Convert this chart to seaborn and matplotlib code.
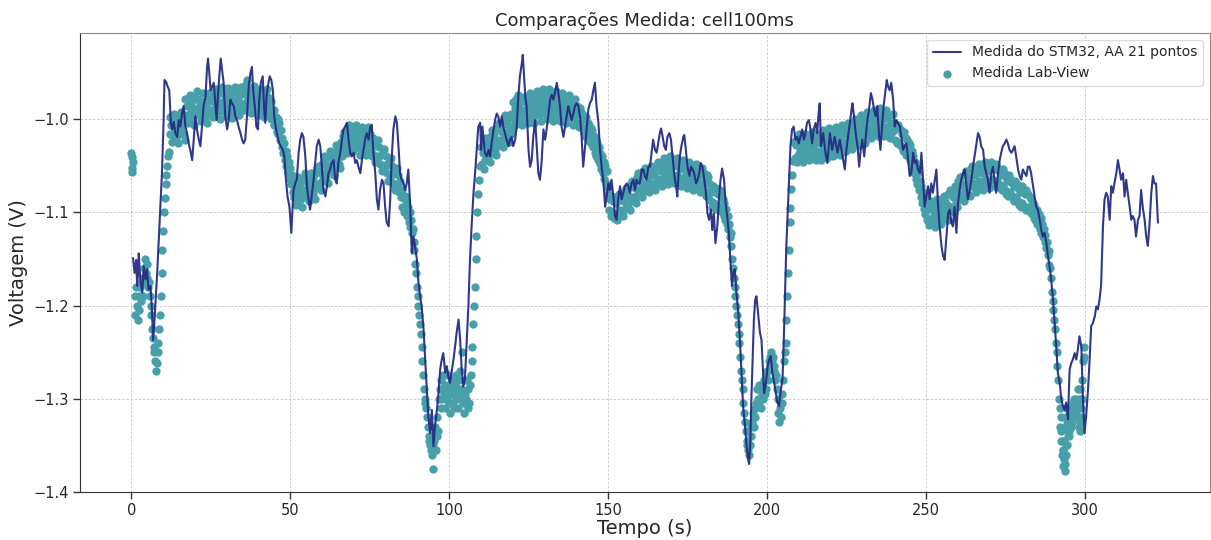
import numpy as np
import pandas as pd
import matplotlib
matplotlib.use("Agg")
import matplotlib.pyplot as plt
import seaborn as sns

# ---- STM32 measurement (moving average, 21 points) ----
stm32_tempo = [
    0.5, 1.0, 1.5, 1.8, 2.1, 2.3, 2.8, 3.4, 3.9, 4.4, 4.9, 5.4, 6.0, 6.5, 6.8, 7.2, 7.5, 8.1, 8.6, 9.1,
    9.6, 10.1, 10.4, 10.9, 11.4, 11.9, 12.4, 12.8, 13.3, 13.8, 14.4, 14.9, 15.4, 15.9, 16.4, 17.0, 17.5, 18.0, 18.5, 19.1,
    19.6, 20.1, 20.6, 21.2, 21.7, 22.2, 22.7, 23.3, 23.8, 24.1, 24.5, 24.9, 25.4, 25.9, 26.4, 26.8, 27.2, 27.7, 28.1, 28.5,
    29.0, 29.5, 30.1, 30.6, 31.1, 31.6, 32.2, 32.7, 33.2, 33.7, 34.3, 34.8, 35.3, 35.8, 36.4, 36.9, 37.4, 37.9, 38.3, 38.8,
    39.3, 39.8, 40.2, 40.7, 41.3, 41.7, 42.1, 42.5, 42.9, 43.5, 44.0, 44.5, 44.9, 45.5, 46.0, 46.5, 47.0, 47.6, 48.1, 48.6,
    49.1, 49.7, 50.3, 50.7,
    51.0, 51.5, 52.0, 52.6, 53.1, 53.6, 54.1, 54.7, 55.2, 55.7, 56.2, 56.8, 57.3, 57.8, 58.3, 58.9, 59.4, 59.9, 60.4, 61.0,
    61.5, 62.0, 62.5, 63.0, 63.6, 64.1, 64.6, 65.1, 65.7, 66.2, 66.7, 67.2, 67.8, 68.3, 68.8, 69.3, 69.9, 70.4, 70.9, 71.4,
    72.0, 72.5, 73.0, 73.5, 74.0, 74.6, 75.1, 75.6, 76.1, 76.7, 77.2, 77.7, 78.2, 78.8, 79.3, 79.8, 80.3, 80.9, 81.4, 81.9,
    82.4, 83.0, 83.5, 84.0, 84.5, 85.0, 85.6, 86.1, 86.6, 87.1, 87.7, 88.2, 88.7, 89.2, 89.8, 90.3, 90.8, 91.3, 91.9, 92.4,
    92.9, 93.4, 94.0, 94.5, 95.0, 95.5, 96.0, 96.6, 97.1, 97.6, 98.1, 98.7, 99.2, 99.7, 100.2, 100.8, 101.3, 101.8, 102.3, 102.9,
    103.4, 103.9, 104.4, 104.9, 105.4, 106.0, 106.5, 107.0, 107.6, 108.1, 108.6, 109.1,
    109.7, 110.0, 110.4, 110.8, 111.2, 111.8, 112.3, 112.8, 113.3, 113.9, 114.4, 114.9, 115.4, 116.0, 116.5, 117.0, 117.5, 118.0, 118.6, 119.1,
    119.6, 120.1, 120.7, 121.2, 121.7, 122.2, 122.8, 123.1, 123.5, 123.9, 124.3, 124.9, 125.4, 125.9, 126.4, 127.0, 127.5, 128.0, 128.5, 129.0,
    129.6, 130.1, 130.6, 131.1, 131.7, 132.2, 132.7, 133.2, 133.8, 134.3, 134.8, 135.3, 135.9, 136.4, 136.9, 137.4, 138.0, 138.5, 139.0, 139.5,
    140.0, 140.6, 141.1, 141.6, 142.1, 142.7, 143.2, 143.7, 144.2, 144.8, 145.3, 145.8, 146.3, 146.9, 147.4, 147.9, 148.4, 149.0, 149.5, 150.0,
    150.5, 151.0, 151.6, 152.1, 152.6, 153.1, 153.7, 154.2, 154.7, 155.2, 155.8, 156.3, 156.8, 157.3, 157.9, 158.4, 158.9, 159.4, 159.9, 160.5,
    161.0, 161.5, 162.0, 162.6, 163.1, 163.6, 164.1, 164.7, 165.2, 165.7, 166.2, 166.6, 167.1, 167.6, 168.1, 168.6, 169.2, 169.7, 170.2, 170.7,
    171.3, 171.7, 172.1, 172.5, 173.0, 173.6, 173.9, 174.4, 174.9, 175.5, 176.0, 176.5, 177.0, 177.6, 178.1, 178.6, 179.1, 179.6, 180.2, 180.7,
    181.2, 181.7, 182.3, 182.7, 183.2, 183.7, 184.3, 184.8, 185.3, 185.8, 186.4, 186.9, 187.4, 187.9, 188.4, 188.9, 189.3, 189.8, 190.3, 190.9,
    191.4, 191.9, 192.4, 193.0, 193.5, 194.0, 194.3, 194.7, 195.0, 195.4, 195.8, 196.2, 196.6, 197.1, 197.7, 198.2, 198.7, 199.0, 199.6, 200.1,
    200.6, 201.1, 201.6, 202.2, 202.7, 203.2, 203.7, 204.3, 204.8, 205.2, 205.6, 206.0, 206.5, 206.9, 207.3, 207.8, 208.3, 208.9, 209.4, 209.9,
    210.4, 211.0, 211.5, 212.0, 212.5, 213.1, 213.6, 214.1, 214.6, 215.2, 215.7, 216.2, 216.5, 216.9,
    217.6, 218.3, 218.9, 219.7, 220.4, 221.2, 222.1, 222.8, 223.5, 224.4, 224.9, 225.4, 226.0, 226.5, 226.8, 227.3, 227.8, 228.4, 228.9, 229.4,
    229.9, 230.5, 231.0, 231.5, 232.0, 232.6, 233.1, 233.6, 234.1, 234.6, 235.2, 235.6, 236.1, 236.6, 237.2, 237.6, 238.0, 238.5, 239.0, 239.6,
    240.1, 240.6, 241.1, 241.7, 242.2, 242.7, 243.2, 243.8, 244.3, 244.8, 245.3, 245.9, 246.4, 246.9, 247.4, 248.0, 248.5, 249.0, 249.5, 250.0,
    250.6, 251.1, 251.6, 252.1, 252.7, 253.2, 253.7, 254.2, 254.8, 255.3, 255.8, 256.3, 256.9, 257.4, 257.9, 258.4, 258.9, 259.5, 260.0, 260.5,
    261.0, 261.6, 262.1, 262.6, 263.1, 263.7, 264.2, 264.7, 265.2, 265.8, 266.3, 266.8, 267.3, 267.9, 268.4, 268.9, 269.4, 269.9, 270.5,
    271.0, 271.5, 272.0, 272.6, 273.1, 273.6, 274.1, 274.7, 275.2, 275.7, 276.2, 276.8, 277.3, 277.8, 278.3, 278.9, 279.4, 279.9, 280.4, 281.0,
    281.5, 282.0, 282.5, 283.0, 283.6, 284.1, 284.6, 285.1, 285.7, 286.2, 286.7, 287.2, 287.8, 288.3, 288.8, 289.3, 289.9, 290.4, 290.9, 291.4,
    292.0, 292.5, 293.0, 293.5, 294.0, 294.6, 295.1, 295.6, 296.1, 296.7, 297.2, 297.7, 298.2, 298.8, 299.3, 299.8, 300.3, 300.9, 301.4, 301.9,
    302.4, 303.0, 303.5, 304.0, 304.5, 305.0, 305.6, 306.1, 306.6, 307.1, 307.7, 308.2, 308.7, 309.2, 309.8, 310.3, 310.8, 311.3, 311.9, 312.4,
    312.9, 313.4, 314.0, 314.5, 315.0, 315.5, 316.0, 316.6, 317.1, 317.6, 318.1, 318.7, 319.2, 319.7, 320.2, 320.8, 321.3, 321.8, 322.3, 322.9,
]

stm32_tensao = [
    -1.149, -1.165, -1.151, -1.179, -1.165, -1.144, -1.172, -1.186, -1.158, -1.172, -1.161, -1.183, -1.179, -1.208, -1.237, -1.219, -1.201, -1.165, -1.129, -1.094,
    -1.058, -1.004, -0.958, -0.960, -0.965, -0.969, -1.004, -1.011, -1.003, -1.015, -1.019, -1.001, -1.008, -0.994, -0.986, -1.008, -1.015, -1.026, -1.033, -1.044,
    -1.022, -0.997, -1.011, -1.022, -1.029, -1.008, -0.986, -0.976, -0.944, -0.935, -0.951, -0.969, -0.965, -0.961, -0.983, -1.001, -0.976, -0.951, -0.935, -0.947,
    -0.961, -0.997, -1.011, -1.001, -0.979, -0.983, -0.986, -0.997, -1.001, -1.008, -1.015, -1.022, -1.026, -1.022, -0.994, -0.965, -0.951, -0.944, -0.969, -0.986,
    -1.008, -1.011, -0.979, -0.961, -0.954, -0.986, -1.004, -0.976, -0.965, -0.954, -0.958, -0.969, -0.997, -1.011, -1.019, -1.026, -1.029, -1.033, -1.040, -1.065,
    -1.083, -1.094, -1.122, -1.094,
    -1.076, -1.069, -1.065, -1.036, -1.022, -1.015, -1.019, -1.040, -1.072, -1.086, -1.097, -1.079, -1.065, -1.047, -1.029, -1.022, -1.029, -1.051, -1.076, -1.083,
    -1.072, -1.058, -1.054, -1.047, -1.044, -1.065, -1.069, -1.047, -1.036, -1.022, -1.011, -1.008, -1.004, -1.022, -1.036, -1.040, -1.036, -1.047, -1.044, -1.051,
    -1.058, -1.044, -1.033, -1.022, -1.015, -1.022, -1.008, -1.006, -1.036, -1.058, -1.086, -1.097, -1.076, -1.065, -1.069, -1.094, -1.111, -1.115, -1.086, -1.040,
    -1.011, -0.997, -1.004, -1.029, -1.058, -1.065, -1.069, -1.076, -1.069, -1.054, -1.094, -1.144, -1.126, -1.136, -1.151, -1.176, -1.190, -1.201, -1.226, -1.258,
    -1.290, -1.319, -1.337, -1.312, -1.351, -1.329, -1.315, -1.294, -1.269, -1.258, -1.251, -1.272, -1.265, -1.276, -1.283, -1.269, -1.258, -1.244, -1.229, -1.215,
    -1.237, -1.269, -1.287, -1.279, -1.244, -1.200, -1.150, -1.115, -1.079, -1.058, -1.033, -1.008,
    -1.004, -1.033, -1.008, -1.022, -1.036, -1.040, -1.033, -1.040, -1.026, -1.011, -1.001, -0.994, -0.997, -1.008, -0.997, -1.008, -1.015, -1.022, -1.029, -1.022,
    -1.019, -1.029, -1.022, -1.008, -0.976, -0.954, -0.940, -0.931, -0.954, -0.976, -0.986, -1.033, -1.051, -1.044, -1.019, -1.001, -1.029, -1.058, -1.065, -1.047,
    -1.011, -1.022, -1.011, -0.997, -0.979, -0.974, -0.979, -0.972, -0.961, -0.972, -0.986, -1.008, -1.019, -1.008, -0.997, -0.986, -0.994, -1.001, -0.994, -0.986,
    -0.983, -0.986, -0.997, -1.019, -1.051, -1.029, -1.011, -0.990, -0.983, -0.979, -0.969, -0.961, -0.986, -1.004, -1.033, -1.051, -1.065, -1.094, -1.083, -1.069,
    -1.076, -1.065, -1.083, -1.104, -1.108, -1.086, -1.072, -1.086, -1.079, -1.072, -1.069, -1.072, -1.079, -1.069, -1.065, -1.076, -1.065, -1.069, -1.069, -1.054,
    -1.054, -1.061, -1.065, -1.051, -1.051, -1.036, -1.022, -1.033, -1.036, -1.026, -1.015, -1.010, -1.019, -1.029, -1.033, -1.019, -1.015, -1.022, -1.040, -1.058,
    -1.072, -1.083, -1.058, -1.040, -1.029, -1.019, -1.017, -1.033, -1.051, -1.061, -1.051, -1.054, -1.058, -1.069, -1.065, -1.058, -1.047, -1.051, -1.065, -1.079,
    -1.101, -1.108, -1.097, -1.119, -1.101, -1.133, -1.115, -1.086, -1.065, -1.053, -1.065, -1.090, -1.104, -1.122, -1.151, -1.179, -1.165, -1.161, -1.186, -1.208,
    -1.237, -1.272, -1.308, -1.329, -1.351, -1.365, -1.370, -1.344, -1.301, -1.258, -1.215, -1.194, -1.190, -1.208, -1.229, -1.237, -1.272, -1.294, -1.283, -1.265,
    -1.258, -1.254, -1.272, -1.283, -1.294, -1.304, -1.308, -1.290, -1.279, -1.237, -1.186, -1.136, -1.094, -1.058, -1.029, -1.011, -1.008, -1.022, -1.019, -1.026,
    -1.019, -1.011, -1.022, -1.015, -1.004, -1.001, -1.011, -1.026, -1.011, -1.004, -1.015, -0.992, -0.983, -1.029,
    -1.015, -1.036, -1.047, -1.015, -1.033, -1.019, -1.036, -1.022, -1.036, -1.054, -1.033, -1.019, -1.004, -0.990, -0.983, -0.997, -1.015, -1.029, -1.051, -1.033,
    -1.022, -1.040, -1.019, -1.001, -0.990, -0.972, -0.979, -0.990, -0.997, -0.986, -1.019, -1.033, -1.008, -0.986, -0.969, -0.958, -0.965, -0.969, -0.961, -0.979,
    -1.008, -1.001, -1.004, -1.008, -1.019, -1.033, -1.029, -1.026, -1.044, -1.061, -1.058, -1.036, -1.047, -1.044, -1.054, -1.058, -1.036, -1.065, -1.094, -1.083,
    -1.072, -1.086, -1.069, -1.079, -1.065, -1.054, -1.090, -1.115, -1.136, -1.147, -1.151, -1.129, -1.101, -1.097, -1.111, -1.115, -1.094, -1.122, -1.090, -1.076,
    -1.065, -1.058, -1.054, -1.069, -1.086, -1.076, -1.065, -1.051, -1.040, -1.026, -1.015, -1.019, -1.029, -1.033, -1.051, -1.058, -1.065, -1.079, -1.058,
    -1.051, -1.065, -1.079, -1.058, -1.044, -1.036, -1.029, -1.026, -1.022, -1.026, -1.033, -1.036, -1.033, -1.029, -1.040, -1.054, -1.061, -1.065, -1.054, -1.058,
    -1.061, -1.051, -1.051, -1.058, -1.072, -1.083, -1.094, -1.097, -1.108, -1.119, -1.126, -1.122, -1.133, -1.147, -1.158, -1.172, -1.194, -1.219, -1.244, -1.272,
    -1.283, -1.301, -1.308, -1.312, -1.304, -1.322, -1.269, -1.262, -1.258, -1.251, -1.258, -1.247, -1.233, -1.244, -1.301, -1.337, -1.319, -1.290, -1.258, -1.222,
    -1.219, -1.212, -1.201, -1.204, -1.194, -1.179, -1.115, -1.086, -1.079, -1.083, -1.108, -1.072, -1.079, -1.069, -1.058, -1.044, -1.054, -1.065, -1.058, -1.083,
    -1.065, -1.079, -1.094, -1.108, -1.104, -1.108, -1.126, -1.108, -1.104, -1.076, -1.094, -1.108, -1.126, -1.136, -1.115, -1.079, -1.061, -1.069, -1.069, -1.111,
]

# ---- Lab-View measurement: (start time, sampling step, readings) ----
labview_trechos = [
    (0.0, 0.1, [-1.036, -1.052, -1.041, -1.057, -1.046]),
    (1.0, 0.25, [-1.19, -1.21, -1.18, -1.20, -1.215, -1.19, -1.205, -1.18, -1.195, -1.175, -1.19, -1.17, -1.16,
                 -1.15, -1.165, -1.155, -1.17, -1.18, -1.175, -1.19, -1.2, -1.21, -1.225, -1.235, -1.25, -1.245,
                 -1.26, -1.27, -1.262, -1.25, -1.24, -1.225, -1.21, -1.19, -1.165, -1.14, -1.12, -1.1, -1.085,
                 -1.07, -1.06, -1.05, -1.04, -1.035]),
    (12.0, 0.25, [-0.998, -1.016, -1.006, -1.024, -1.002, -1.02, -0.994, -1.012, -1.0, -1.018,
                  -1.008, -1.026, -1.0, -1.014, -0.992, -1.01, -0.996, -1.016, -1.004, -1.022]),
    (17.0, 0.25, [-0.978, -0.996, -0.986, -1.004, -0.982, -1.0, -0.974, -0.992, -0.98, -0.998, -0.988, -1.006,
                  -0.976, -0.994, -0.97, -0.99, -0.978, -0.996, -0.984, -1.002, -0.98, -0.998, -0.972, -0.99,
                  -0.982, -1.0, -0.986, -1.004, -0.978, -0.994, -0.972, -0.99]),
    (25.0, 0.25, [-0.972, -0.99, -0.98, -0.998, -0.976, -0.994, -0.968, -0.986, -0.974, -0.992, -0.982, -1.0,
                  -0.97, -0.988, -0.966, -0.984, -0.973, -0.991, -0.979, -0.997, -0.975, -0.993, -0.967, -0.985,
                  -0.977, -0.995, -0.981, -0.999, -0.971, -0.989, -0.965, -0.983, -0.972, -0.99, -0.978, -0.996,
                  -0.974, -0.992, -0.966, -0.984]),
    (35.0, 0.25, [-0.966, -0.984, -0.972, -0.99, -0.962, -0.98, -0.958, -0.976, -0.968, -0.986, -0.975, -0.993,
                  -0.97, -0.988, -0.964, -0.982, -0.972, -0.99, -0.978, -0.996, -0.974, -0.992, -0.968, -0.986,
                  -0.976, -0.994, -0.98, -0.998, -0.972, -0.99, -0.968, -0.986, -0.976, -0.994, -0.982, -1.0,
                  -0.98, -0.998, -0.99, -1.006]),
    (45.0, 0.25, [-0.99, -1.006, -0.998, -1.014, -1.0, -1.016, -1.004, -1.022, -1.012, -1.03, -1.02, -1.036,
                  -1.026, -1.044, -1.034, -1.05, -1.04, -1.058, -1.046, -1.064, -1.052, -1.07, -1.06, -1.078]),
    (51.0, 0.25, [-1.066, -1.084, -1.074, -1.092, -1.07, -1.088, -1.062, -1.08, -1.068, -1.086, -1.076, -1.094,
                  -1.064, -1.082, -1.058, -1.076, -1.064, -1.082, -1.07, -1.088, -1.066, -1.084, -1.058, -1.076,
                  -1.062, -1.08, -1.068, -1.086, -1.058, -1.074, -1.052, -1.07]),
    (59.0, 0.25, [-1.05, -1.068, -1.058, -1.076, -1.048, -1.064, -1.04, -1.058, -1.046, -1.062, -1.052, -1.068,
                  -1.04, -1.056, -1.034, -1.05, -1.038, -1.054, -1.044, -1.06, -1.036, -1.052, -1.028, -1.044,
                  -1.032, -1.048, -1.036, -1.052, -1.024, -1.04, -1.018, -1.034]),
    (67.0, 0.25, [-1.014, -1.03, -1.02, -1.036, -1.01, -1.026, -1.006, -1.022, -1.012, -1.028, -1.018, -1.034,
                  -1.01, -1.026, -1.006, -1.022, -1.014, -1.03, -1.02, -1.038, -1.016, -1.032, -1.008, -1.026,
                  -1.014, -1.032, -1.02, -1.038, -1.012, -1.03, -1.008, -1.026, -1.016, -1.034, -1.022, -1.04]),
    (76.0, 0.25, [-1.02, -1.038, -1.028, -1.046, -1.026, -1.044, -1.022, -1.04, -1.03, -1.048, -1.038, -1.056,
                  -1.036, -1.054, -1.032, -1.05, -1.04, -1.058, -1.048, -1.066, -1.046, -1.064, -1.042, -1.06,
                  -1.05, -1.068, -1.058, -1.076, -1.056, -1.074, -1.052, -1.07, -1.06, -1.078, -1.066, -1.084]),
    (85.0, 0.25, [-1.076, -1.094, -1.084, -1.1, -1.082, -1.098, -1.088, -1.104, -1.094, -1.11, -1.1, -1.116,
                  -1.108, -1.122, -1.118, -1.132]),
    (89.0, 0.25, [-1.14, -1.155, -1.165, -1.18, -1.19, -1.2, -1.21, -1.22, -1.23, -1.245, -1.26, -1.275, -1.29, -1.3,
                  -1.305, -1.31, -1.32, -1.33, -1.34, -1.345, -1.35, -1.355, -1.36, -1.375, -1.35,
                  -1.345, -1.33, -1.355, -1.34, -1.32, -1.335, -1.30, -1.29, -1.31, -1.28, -1.30, -1.275, -1.295, -1.285,
                  -1.31, -1.29, -1.3, -1.275, -1.305, -1.285, -1.315, -1.295, -1.28, -1.305, -1.29, -1.31, -1.285, -1.3,
                  -1.275, -1.295, -1.31, -1.28, -1.3, -1.27, -1.29, -1.25, -1.305, -1.28, -1.315, -1.295,
                  -1.3, -1.28, -1.31, -1.29, -1.305, -1.285, -1.275, -1.26, -1.245, -1.22, -1.2, -1.18, -1.15, -1.125,
                  -1.1, -1.08, -1.065, -1.05]),
    (110.0, 0.25, [-1.03, -1.048, -1.036, -1.054, -1.026, -1.044, -1.02, -1.04, -1.024, -1.042, -1.03, -1.046,
                   -1.018, -1.036, -1.012, -1.03, -1.016, -1.034, -1.022, -1.038, -1.01, -1.028, -1.004, -1.022,
                   -1.008, -1.026, -1.014, -1.03, -1.002, -1.02, -0.996, -1.014, -1.0, -1.018, -1.006, -1.024,
                   -0.998, -1.016, -0.994, -1.012]),
    (120.0, 0.25, [-0.982, -1.0, -0.988, -1.006, -0.978, -0.996, -0.974, -0.992, -0.984, -1.002, -0.99, -1.006,
                   -0.98, -0.998, -0.976, -0.994, -0.982, -1.0, -0.988, -1.004, -0.978, -0.996, -0.972, -0.99,
                   -0.98, -0.998, -0.986, -1.004, -0.976, -0.994, -0.97, -0.988, -0.978, -0.996, -0.984, -1.002,
                   -0.974, -0.992, -0.968, -0.986, -0.976, -0.994, -0.982, -1.0, -0.972, -0.99, -0.968, -0.986,
                   -0.976, -0.994, -0.984, -1.002, -0.974, -0.992, -0.97, -0.988, -0.978, -0.996, -0.984, -1.002,
                   -0.976, -0.994, -0.972, -0.99, -0.98, -0.998, -0.986, -1.004, -0.978, -0.996, -0.974, -0.992,
                   -0.982, -1.0, -0.988, -1.006, -0.98, -0.998, -0.978, -0.996]),
    (140.0, 0.25, [-0.986, -1.004, -0.99, -1.008, -0.988, -1.006, -0.992, -1.01, -0.996, -1.014, -1.0, -1.018,
                   -0.998, -1.016, -1.004, -1.022, -1.006, -1.024, -1.01, -1.028, -1.012, -1.03, -1.018, -1.036,
                   -1.022, -1.04, -1.026, -1.044, -1.03, -1.048, -1.036, -1.054, -1.04, -1.058, -1.046, -1.064,
                   -1.05, -1.068, -1.056, -1.074]),
    (150.0, 0.25, [-1.08, -1.098, -1.086, -1.104, -1.082, -1.1, -1.088, -1.106, -1.084, -1.102, -1.09, -1.108,
                   -1.086, -1.104, -1.08, -1.098, -1.082, -1.1, -1.088, -1.104, -1.078, -1.096, -1.074, -1.092,
                   -1.076, -1.094, -1.082, -1.098, -1.07, -1.088, -1.066, -1.084, -1.07, -1.088, -1.074, -1.09,
                   -1.062, -1.08, -1.058, -1.076, -1.062, -1.08, -1.068, -1.084, -1.056, -1.074, -1.052, -1.07]),
    (162.0, 0.25, [-1.058, -1.076, -1.062, -1.078, -1.054, -1.072, -1.05, -1.068, -1.056, -1.072, -1.06, -1.076,
                   -1.05, -1.068, -1.046, -1.064, -1.05, -1.068, -1.056, -1.072, -1.046, -1.064, -1.042, -1.06,
                   -1.048, -1.066, -1.052, -1.07, -1.044, -1.062, -1.04, -1.058, -1.046, -1.064, -1.05, -1.068,
                   -1.044, -1.062, -1.042, -1.06, -1.048, -1.066, -1.054, -1.072, -1.046, -1.064, -1.044, -1.062,
                   -1.05, -1.068, -1.056, -1.074, -1.048, -1.066, -1.046, -1.064, -1.052, -1.07, -1.058, -1.076,
                   -1.05, -1.068, -1.048, -1.066, -1.054, -1.072, -1.06, -1.078, -1.054, -1.072, -1.052, -1.07,
                   -1.058, -1.076, -1.064, -1.082, -1.06, -1.078, -1.062, -1.08]),
    (182.0, 0.25, [-1.07, -1.088, -1.076, -1.094, -1.072, -1.09, -1.078, -1.096, -1.074, -1.092, -1.08, -1.098,
                   -1.076, -1.094, -1.082, -1.1, -1.086, -1.104, -1.09, -1.108, -1.096, -1.112, -1.104, -1.118,
                   -1.112, -1.126, -1.122, -1.136]),
    (189.0, 0.25, [-1.15, -1.16, -1.17, -1.18, -1.19, -1.2, -1.21, -1.22, -1.23, -1.24, -1.255, -1.27, -1.28, -1.29,
                   -1.305, -1.315, -1.325, -1.335, -1.345, -1.35, -1.355, -1.36, -1.35, -1.34, -1.33,
                   -1.325, -1.315, -1.33, -1.31, -1.32, -1.305, -1.29, -1.3, -1.285, -1.305, -1.29, -1.31, -1.295,
                   -1.285, -1.3, -1.28, -1.295, -1.275, -1.29, -1.27, -1.28, -1.26, -1.255, -1.265, -1.25, -1.26,
                   -1.255, -1.27, -1.265, -1.28, -1.275, -1.29, -1.3, -1.315, -1.325, -1.31, -1.32, -1.305, -1.295, -1.28,
                   -1.26, -1.25, -1.24, -1.215, -1.19, -1.165, -1.14, -1.11, -1.095, -1.075, -1.06, -1.045]),
    (208.5, 0.25, [-1.024, -1.042, -1.028, -1.046, -1.02, -1.038, -1.016, -1.034, -1.024, -1.042, -1.03, -1.046,
                   -1.02, -1.038, -1.016, -1.034, -1.022, -1.04, -1.028, -1.044, -1.018, -1.036, -1.014, -1.032,
                   -1.022, -1.04, -1.026, -1.044, -1.016, -1.034]),
    (216.0, 0.25, [-1.02, -1.038, -1.026, -1.044, -1.016, -1.034, -1.012, -1.03, -1.02, -1.038, -1.024, -1.042,
                   -1.014, -1.032, -1.01, -1.028, -1.018, -1.036, -1.024, -1.04, -1.012, -1.03, -1.008, -1.026,
                   -1.016, -1.034, -1.02, -1.038, -1.01, -1.028, -1.006, -1.024]),
    (224.0, 0.25, [-1.012, -1.03, -1.016, -1.034, -1.008, -1.026, -1.004, -1.022, -1.01, -1.028, -1.016, -1.032,
                   -1.004, -1.022, -1.0, -1.018, -1.006, -1.024, -1.012, -1.028, -1.0, -1.018, -0.996, -1.014,
                   -1.004, -1.022, -1.008, -1.026, -0.998, -1.016, -0.992, -1.01]),
    (232.0, 0.25, [-0.998, -1.016, -1.002, -1.02, -0.994, -1.012, -0.99, -1.008, -0.996, -1.014, -1.002, -1.018,
                   -0.992, -1.01, -0.988, -1.006, -0.996, -1.014, -1.0, -1.018, -0.992, -1.01, -0.99, -1.008,
                   -0.998, -1.016, -1.004, -1.02, -0.996, -1.014, -0.994, -1.012]),
    (240.0, 0.25, [-1.004, -1.022, -1.008, -1.026, -1.006, -1.024, -1.01, -1.028, -1.012, -1.03, -1.016, -1.034,
                   -1.014, -1.032, -1.02, -1.038, -1.022, -1.04, -1.026, -1.044, -1.028, -1.046, -1.034, -1.052,
                   -1.04, -1.058, -1.046, -1.064, -1.052, -1.07, -1.058, -1.076, -1.066, -1.084, -1.072, -1.09,
                   -1.078, -1.096, -1.084, -1.102]),
    (250.0, 0.25, [-1.09, -1.108, -1.096, -1.114, -1.092, -1.11, -1.088, -1.106, -1.094, -1.112, -1.1, -1.116,
                   -1.09, -1.108, -1.086, -1.104, -1.092, -1.11, -1.096, -1.112, -1.086, -1.104, -1.082, -1.1,
                   -1.088, -1.106, -1.092, -1.108, -1.08, -1.098, -1.076, -1.094, -1.08, -1.098, -1.084, -1.1]),
    (259.0, 0.25, [-1.072, -1.09, -1.076, -1.094, -1.066, -1.084, -1.062, -1.08, -1.068, -1.086, -1.072, -1.088,
                   -1.06, -1.078, -1.056, -1.074, -1.062, -1.08, -1.066, -1.082, -1.054, -1.072, -1.05, -1.068,
                   -1.056, -1.074, -1.06, -1.078, -1.05, -1.068, -1.048, -1.066, -1.054, -1.072, -1.058, -1.076,
                   -1.048, -1.066, -1.046, -1.064, -1.052, -1.07, -1.056, -1.074, -1.048, -1.066, -1.046, -1.064]),
    (271.0, 0.25, [-1.05, -1.068, -1.054, -1.072, -1.048, -1.066, -1.052, -1.07, -1.056, -1.074, -1.06, -1.076,
                   -1.054, -1.072, -1.058, -1.076, -1.062, -1.08, -1.066, -1.082, -1.06, -1.078, -1.064, -1.082,
                   -1.068, -1.086, -1.072, -1.088, -1.066, -1.084, -1.07, -1.088, -1.074, -1.092, -1.078, -1.094,
                   -1.072, -1.09, -1.076, -1.094, -1.08, -1.098, -1.076, -1.094, -1.08, -1.098, -1.084, -1.1]),
    (283.0, 0.25, [-1.086, -1.102, -1.09, -1.106, -1.092, -1.108, -1.096, -1.112, -1.098, -1.114, -1.102, -1.118,
                   -1.106, -1.122, -1.112, -1.126, -1.118, -1.132, -1.124, -1.138, -1.132, -1.146, -1.142, -1.156]),
    (289.0, 0.25, [-1.16, -1.17, -1.185, -1.195, -1.205, -1.215, -1.225, -1.24, -1.25, -1.265, -1.28, -1.3, -1.31,
                   -1.32, -1.335, -1.345, -1.355, -1.365, -1.378, -1.37, -1.36, -1.35, -1.34, -1.33, -1.335, -1.32,
                   -1.33, -1.315, -1.325, -1.31, -1.32, -1.305, -1.315, -1.3, -1.31, -1.32, -1.33, -1.325, -1.335,
                   -1.3, -1.28, -1.26, -1.245, -1.255]),
    (292.125, 0.25, [-1.33, -1.345, -1.36, -1.372, -1.355, -1.345, -1.33, -1.32, -1.31, -1.325, -1.335, -1.34,
                     -1.325, -1.315, -1.33, -1.32, -1.305, -1.3, -1.315, -1.31, -1.32, -1.305, -1.29, -1.31,
                     -1.3, -1.29, -1.31, -1.32, -1.3]),
]

labview_tempo = np.concatenate([t0 + dt * np.arange(len(v)) for t0, dt, v in labview_trechos])
labview_tensao = np.concatenate([np.asarray(v, dtype=float) for _, _, v in labview_trechos])

df_stm = pd.DataFrame({"Tempo (s)": stm32_tempo, "Voltagem (V)": stm32_tensao})
df_lab = pd.DataFrame({"Tempo (s)": labview_tempo, "Voltagem (V)": labview_tensao})

sns.set_style("ticks")
plt.rcParams["font.family"] = ["DejaVu Sans"]

fig = plt.figure(figsize=(12.11, 5.4), dpi=100)
ax = fig.add_axes([0.066, 0.089, 0.933, 0.850])

sns.lineplot(data=df_stm, x="Tempo (s)", y="Voltagem (V)", ax=ax, color="#262c85",
             linewidth=1.5, alpha=0.95, estimator=None, sort=False, zorder=3,
             label="Medida do STM32, AA 21 pontos")
sns.scatterplot(data=df_lab, x="Tempo (s)", y="Voltagem (V)", ax=ax, color="#47a0a9",
                s=36, linewidth=0, alpha=1.0, zorder=2, label="Medida Lab-View")

ax.set_xlim(-16.2, 339.2)
ax.set_ylim(-1.4, -0.9075)
ax.set_xticks([0, 50, 100, 150, 200, 250, 300])
ax.set_yticks([-1.4, -1.3, -1.2, -1.1, -1.0])
ax.grid(True, linestyle=(0, (3, 2)), linewidth=0.6, color="#c4c4c4")
ax.set_axisbelow(True)

ax.set_title("Comparações Medida: cell100ms", fontsize=13, pad=5)
ax.set_xlabel("Tempo (s)", fontsize=14, labelpad=1)
ax.set_ylabel("Voltagem (V)", fontsize=14, labelpad=4)
ax.tick_params(axis="both", labelsize=10.5, length=5, width=1, color="#333333",
               direction="out", pad=3)

for side in ("left", "bottom"):
    ax.spines[side].set_color("#333333")
for side in ("top", "right"):
    ax.spines[side].set_color("#8a8a8a")

ax.legend(loc="upper right", fontsize=10, frameon=True, framealpha=1, edgecolor="#dddddd")

fig.savefig("out.png", dpi=100)
